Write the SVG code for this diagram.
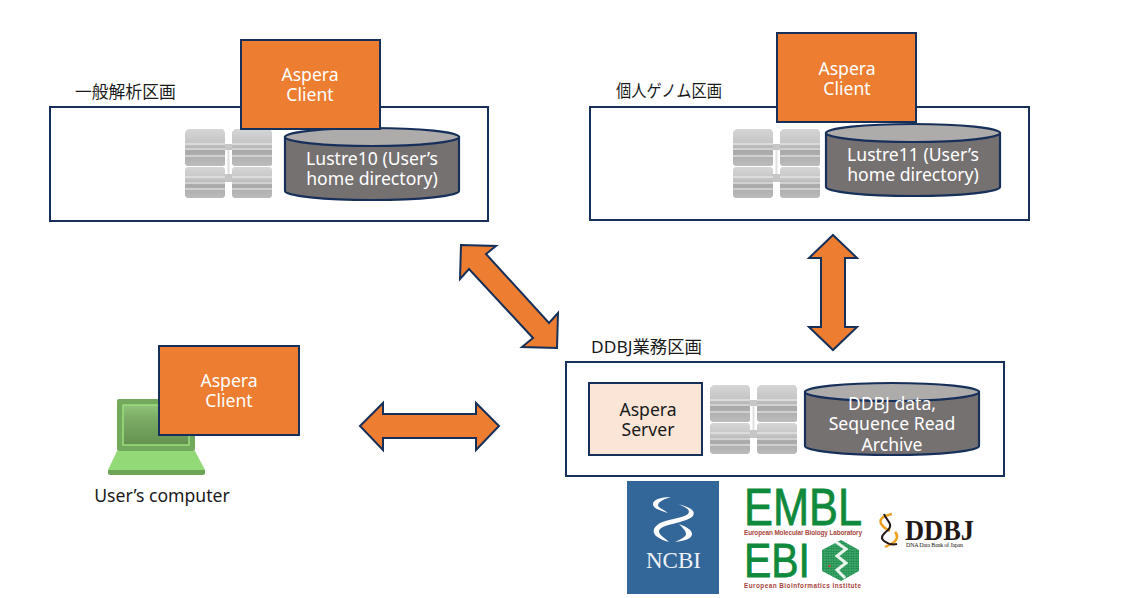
<svg xmlns="http://www.w3.org/2000/svg" width="1147" height="598" viewBox="0 0 1147 598">
<style>
text{font-family:"Noto Sans","Noto Sans CJK JP",sans-serif;font-size:17.6px}
.m{text-anchor:middle}
.w{fill:#fff}
.k{fill:#1a1a1a}
.cjk{font-size:16.8px}
.zone{fill:#fff;stroke:#17305a;stroke-width:2}
.client{fill:#ed7d31;stroke:#17305a;stroke-width:2}
.server{fill:#fbe5d6;stroke:#17305a;stroke-width:2}
.cyl{fill:#767171;stroke:#17305a;stroke-width:2.200}
.cyltop{fill:#aeabab;stroke:#17305a;stroke-width:2.200}
.arrow{fill:#ed7d31;stroke:#17305a;stroke-width:2;stroke-linejoin:miter}
.g{fill:#0f8a3c;stroke:#0f8a3c;stroke-width:.8;font-family:"Liberation Sans",sans-serif}
.tiny{fill:#a8453c;font-family:"Liberation Sans",sans-serif;font-size:6.400px;font-weight:bold}
</style>
<defs>
<linearGradient id="metal" x1="0" y1="0" x2="0" y2="1">
<stop offset="0" stop-color="#d6d6d6"/><stop offset=".4" stop-color="#c4c4c4"/><stop offset=".6" stop-color="#a9a9a9"/><stop offset="1" stop-color="#bcbcbc"/>
</linearGradient>
<linearGradient id="scr" x1="0" y1="0" x2="0" y2="1">
<stop offset="0" stop-color="#8fc47a"/><stop offset=".35" stop-color="#7bab65"/><stop offset="1" stop-color="#63924f"/>
</linearGradient>
<pattern id="dots" width="2.500" height="2.500" patternUnits="userSpaceOnUse">
<rect width="2.500" height="2.500" fill="#5cb37f"/>
<circle cx="1.250" cy="1.250" r="1.100" fill="#128a45"/>
</pattern>
<g id="rack">
<rect x="40" y="15" width="7" height="6" fill="#c6c6c6"/>
<rect x="40" y="45" width="7" height="8" fill="#c6c6c6"/>
<rect x="42.500" y="21" width="2" height="24" fill="#e0e0e0"/>
<g id="bladeA">
<path d="M3 0H38L40 3V36L38 37H2L0 35V3Z" fill="url(#metal)"/>
<path d="M0 15H40M0 20H40M0 27H40" stroke="#f2f2f2" stroke-width="1.200"/>
</g>
<use href="#bladeA" x="47"/>
<g id="bladeB">
<path d="M2 38H38L40 40V67L38 69H2L0 67V40Z" fill="url(#metal)"/>
<path d="M0 48H40M0 54H40M0 60H40" stroke="#f0f0f0" stroke-width="1.200"/>
</g>
<use href="#bladeB" x="47"/>
</g>
</defs>

<g id="connectors">
<path class="arrow" d="M461 245L496 246L486 254L549 323L558 313L557 348L522 347L533 338L469 269L460 279Z"/>
<path class="arrow" d="M833 235L857 258H845V327H857L833 350L809 327H821V258H809Z"/>
<path class="arrow" d="M360 426L383 403V414H476V403L499 426L476 450V438H383V450Z"/>
</g>

<g id="zone-general">
<rect class="zone" x="50" y="107" width="438" height="114"/>
<text x="75" y="98" class="k cjk">一般解析区画</text>
<use href="#rack" x="185" y="129"/>
</g>
<g id="lustre10">
<path class="cyl" d="M285 137V191A87 9 0 0 0 459 191V137Z"/>
<ellipse class="cyltop" cx="372" cy="137" rx="87" ry="9"/>
<text class="m w" x="372" y="165">Lustre10 (User’s</text>
<text class="m w" x="372" y="185">home directory)</text>
</g>
<g id="client-general">
<rect class="client" x="241" y="40" width="139" height="89"/>
<text class="m w" x="310" y="81">Aspera</text>
<text class="m w" x="310" y="101">Client</text>
</g>

<g id="zone-personal">
<rect class="zone" x="590" y="107" width="439" height="113"/>
<text x="616" y="97" class="k cjk" textLength="106" lengthAdjust="spacingAndGlyphs">個人ゲノム区画</text>
<use href="#rack" x="733" y="129"/>
</g>
<g id="lustre11">
<path class="cyl" d="M826 133V187A87 9 0 0 0 1000 187V133Z"/>
<ellipse class="cyltop" cx="913" cy="133" rx="87" ry="9"/>
<text class="m w" x="913" y="161">Lustre11 (User’s</text>
<text class="m w" x="913" y="181">home directory)</text>
</g>
<g id="client-personal">
<rect class="client" x="777" y="33" width="139" height="89"/>
<text class="m w" x="847" y="75">Aspera</text>
<text class="m w" x="847" y="95">Client</text>
</g>

<g id="zone-ddbj">
<rect class="zone" x="566" y="362" width="438" height="114"/>
<text x="591" y="353" class="k cjk" textLength="111" lengthAdjust="spacingAndGlyphs">DDBJ業務区画</text>
<use href="#rack" x="710" y="385"/>
</g>
<g id="aspera-server">
<rect class="server" x="589" y="383" width="113" height="72"/>
<text class="m k" x="648" y="416">Aspera</text>
<text class="m k" x="648" y="436">Server</text>
</g>
<g id="ddbj-data">
<path class="cyl" d="M805 392V446A87 9 0 0 0 979 446V392Z"/>
<ellipse class="cyltop" cx="892" cy="392" rx="87" ry="9"/>
<text class="m w" x="892" y="410">DDBJ data,</text>
<text class="m w" x="892" y="430">Sequence Read</text>
<text class="m w" x="892" y="451">Archive</text>
</g>

<g id="users-computer">
<rect x="117" y="399" width="78" height="52" rx="2" fill="#72a95d"/>
<rect x="123" y="405" width="66" height="40" fill="url(#scr)" stroke="#9ade7e" stroke-width="1.500"/>
<path d="M117 451H195L205 470H108Z" fill="#93d977"/>
<path d="M108 470H205V474L203 475H110L108 474Z" fill="#6ea457"/>
<text class="m k" x="162" y="502">User’s computer</text>
</g>
<g id="client-computer">
<rect class="client" x="159" y="346" width="140" height="89"/>
<text class="m w" x="229" y="387">Aspera</text>
<text class="m w" x="229" y="407">Client</text>
</g>

<g id="logo-ncbi">
<rect x="627" y="481" width="92" height="113" fill="#336699"/>
<path d="M671 497C660 497 653 500 653 504C653 509 662 511 668 513C663 509 658 508 658 505C659 501 665 499 671 497Z" fill="#fff"/>
<path d="M678 504C686 507 691 510 688 514C684 518 668 519 660 523C653 527 652 532 656 536C660 539 664 541 669 542C664 537 659 535 659 531C660 526 670 525 680 522C690 519 696 516 693 511C691 508 685 506 678 504Z" fill="#fff"/>
<path d="M679 524C687 527 692 530 692 534C692 539 684 541 675 542C681 539 686 537 686 534C686 531 683 528 679 524Z" fill="#fff"/>
<text x="646" y="568" fill="#eef2f7" style="font-family:'Liberation Serif',serif;font-size:23px" textLength="55" lengthAdjust="spacingAndGlyphs">NCBI</text>
</g>

<g id="logo-embl-ebi">
<text x="744" y="525" class="g" style="font-size:51px" textLength="118" lengthAdjust="spacingAndGlyphs">EMBL</text>
<text x="744" y="535" class="tiny" textLength="118" lengthAdjust="spacing">European Molecular Biology Laboratory</text>
<text x="744" y="577" class="g" style="font-size:49px" textLength="66" lengthAdjust="spacingAndGlyphs">EBI</text>
<text x="744" y="588" class="tiny" textLength="117" lengthAdjust="spacing">European Bioinformatics Institute</text>
<path d="M841 540L859 550V571L841 581L822 571V550Z" fill="url(#dots)"/>
<path d="M836 542L846 549L837 556L846 563L837 570L845 578" fill="none" stroke="#e8f4ec" stroke-width="3"/>
<circle cx="829.500" cy="566" r="1.200" fill="#d83a3a"/>
</g>

<g id="logo-ddbj">
<path d="M892 514C882 516 878 520 882 525C884 528 888 530 890 531" fill="none" stroke="#f0a020" stroke-width="2.500"/>
<path d="M895 532C899 536 897 541 891 544L885 547" fill="none" stroke="#f0a020" stroke-width="2.500"/>
<path d="M884 514C886 520 894 524 888 530C882 535 880 538 884 541C888 544 893 545 897 544" fill="none" stroke="#231815" stroke-width="2"/>
<text x="905" y="540" style="font-family:'Liberation Serif',serif;font-size:30px;font-weight:bold;fill:#231815" textLength="69" lengthAdjust="spacingAndGlyphs">DDBJ</text>
<text x="906" y="547" style="font-family:'Liberation Serif',serif;font-size:6px;fill:#231815" textLength="57" lengthAdjust="spacing">DNA Data Bank of Japan</text>
</g>
</svg>
